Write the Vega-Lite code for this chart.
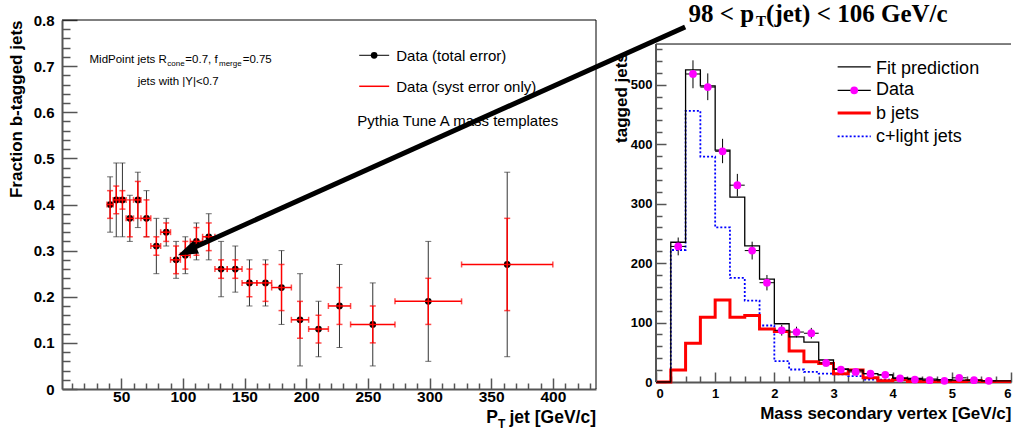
{
  "$schema": "https://vega.github.io/schema/vega-lite/v6.json",
  "padding": {"left": 7, "top": 2, "right": 0, "bottom": 0},
  "background": "white",
  "bounds": "flush",
  "spacing": 60,
  "config": {
    "font": "Liberation Sans",
    "view": {"stroke": null},
    "axis": {"grid": false, "domainColor": "#555", "domainWidth": 2, "tickColor": "#555", "tickWidth": 1.5, "labelColor": "black", "labelFontWeight": "bold", "titleColor": "black", "titleFontWeight": "bold", "labelFont": "Liberation Sans", "titleFont": "Liberation Sans"}
  },
  "datasets": {
    "frac": [
      {"pt":41,"xlo":38.5,"xhi":43.5,"f":0.40,"tlo":0.34,"thi":0.46,"slo":0.37,"shi":0.43},
      {"pt":46,"xlo":43.5,"xhi":48.5,"f":0.41,"tlo":0.33,"thi":0.49,"slo":0.38,"shi":0.44},
      {"pt":51,"xlo":48.5,"xhi":54,"f":0.41,"tlo":0.33,"thi":0.49,"slo":0.39,"shi":0.43},
      {"pt":57,"xlo":54,"xhi":60,"f":0.37,"tlo":0.32,"thi":0.42,"slo":0.33,"shi":0.41},
      {"pt":63.5,"xlo":60,"xhi":66,"f":0.41,"tlo":0.35,"thi":0.47,"slo":0.37,"shi":0.45},
      {"pt":70.5,"xlo":66,"xhi":74,"f":0.37,"tlo":0.33,"thi":0.43,"slo":0.33,"shi":0.41},
      {"pt":78.5,"xlo":74,"xhi":82,"f":0.31,"tlo":0.25,"thi":0.37,"slo":0.29,"shi":0.33},
      {"pt":86.5,"xlo":82,"xhi":90,"f":0.34,"tlo":0.31,"thi":0.37,"slo":0.32,"shi":0.36},
      {"pt":94.5,"xlo":90,"xhi":98,"f":0.28,"tlo":0.24,"thi":0.32,"slo":0.25,"shi":0.31},
      {"pt":102,"xlo":98,"xhi":106,"f":0.29,"tlo":0.25,"thi":0.33,"slo":0.26,"shi":0.32},
      {"pt":111,"xlo":106,"xhi":116,"f":0.32,"tlo":0.28,"thi":0.36,"slo":0.29,"shi":0.35},
      {"pt":121,"xlo":116,"xhi":126,"f":0.33,"tlo":0.28,"thi":0.38,"slo":0.30,"shi":0.36},
      {"pt":131,"xlo":126,"xhi":136,"f":0.26,"tlo":0.20,"thi":0.32,"slo":0.24,"shi":0.28},
      {"pt":142.5,"xlo":136,"xhi":148,"f":0.26,"tlo":0.21,"thi":0.31,"slo":0.24,"shi":0.28},
      {"pt":154,"xlo":148,"xhi":160,"f":0.23,"tlo":0.18,"thi":0.28,"slo":0.20,"shi":0.26},
      {"pt":167,"xlo":160,"xhi":172,"f":0.23,"tlo":0.18,"thi":0.28,"slo":0.19,"shi":0.27},
      {"pt":180,"xlo":172,"xhi":188,"f":0.22,"tlo":0.14,"thi":0.30,"slo":0.17,"shi":0.27},
      {"pt":195,"xlo":188,"xhi":202,"f":0.15,"tlo":0.05,"thi":0.25,"slo":0.11,"shi":0.19},
      {"pt":210,"xlo":202,"xhi":218,"f":0.13,"tlo":0.07,"thi":0.19,"slo":0.10,"shi":0.16},
      {"pt":227,"xlo":218,"xhi":236,"f":0.18,"tlo":0.09,"thi":0.27,"slo":0.14,"shi":0.22},
      {"pt":254,"xlo":236,"xhi":272,"f":0.14,"tlo":0.05,"thi":0.23,"slo":0.10,"shi":0.18},
      {"pt":299,"xlo":272,"xhi":326,"f":0.19,"tlo":0.06,"thi":0.32,"slo":0.14,"shi":0.24},
      {"pt":363,"xlo":326,"xhi":400,"f":0.27,"tlo":0.07,"thi":0.47,"slo":0.17,"shi":0.37}
    ],
    "hist": [
      {"e":0,"fit":0,"b":0,"cl":0},
      {"e":0.25,"fit":235,"b":20,"cl":222},
      {"e":0.5,"fit":525,"b":65,"cl":456},
      {"e":0.75,"fit":498,"b":109,"cl":379},
      {"e":1.0,"fit":390,"b":138,"cl":260},
      {"e":1.25,"fit":311,"b":109,"cl":175},
      {"e":1.5,"fit":229,"b":112,"cl":137},
      {"e":1.75,"fit":173,"b":89,"cl":95},
      {"e":2.0,"fit":98,"b":85,"cl":35},
      {"e":2.25,"fit":76,"b":52,"cl":21},
      {"e":2.5,"fit":67,"b":34,"cl":17},
      {"e":2.75,"fit":37,"b":31,"cl":14},
      {"e":3.0,"fit":22,"b":14,"cl":13},
      {"e":3.25,"fit":20,"b":20,"cl":10},
      {"e":3.5,"fit":14,"b":7,"cl":4},
      {"e":3.75,"fit":12,"b":2,"cl":4},
      {"e":4.0,"fit":7,"b":4,"cl":3},
      {"e":4.25,"fit":6,"b":1,"cl":3},
      {"e":4.5,"fit":5,"b":1,"cl":2},
      {"e":4.75,"fit":4,"b":1,"cl":2},
      {"e":5.0,"fit":3,"b":1,"cl":1},
      {"e":5.25,"fit":3,"b":2,"cl":1},
      {"e":5.5,"fit":2,"b":1,"cl":1},
      {"e":5.75,"fit":2,"b":1,"cl":1},
      {"e":6.0,"fit":2,"b":1,"cl":1}
    ],
    "mdata": [
      {"c":0.375,"xl":0.25,"xh":0.5,"n":228,"lo":213,"hi":243},
      {"c":0.625,"xl":0.5,"xh":0.75,"n":518,"lo":494,"hi":541},
      {"c":0.875,"xl":0.75,"xh":1.0,"n":496,"lo":474,"hi":519},
      {"c":1.125,"xl":1.0,"xh":1.25,"n":388,"lo":368,"hi":409},
      {"c":1.375,"xl":1.25,"xh":1.5,"n":331,"lo":312,"hi":350},
      {"c":1.625,"xl":1.5,"xh":1.75,"n":221,"lo":206,"hi":236},
      {"c":1.875,"xl":1.75,"xh":2.0,"n":167,"lo":154,"hi":180},
      {"c":2.125,"xl":2.0,"xh":2.25,"n":87,"lo":78,"hi":96},
      {"c":2.375,"xl":2.25,"xh":2.5,"n":84,"lo":75,"hi":93},
      {"c":2.625,"xl":2.5,"xh":2.75,"n":82,"lo":73,"hi":91},
      {"c":2.875,"xl":2.75,"xh":3.0,"n":32,"lo":26,"hi":38},
      {"c":3.125,"xl":3.0,"xh":3.25,"n":21,"lo":16,"hi":26},
      {"c":3.375,"xl":3.25,"xh":3.5,"n":17,"lo":13,"hi":21},
      {"c":3.625,"xl":3.5,"xh":3.75,"n":14,"lo":10,"hi":18},
      {"c":3.875,"xl":3.75,"xh":4.0,"n":12,"lo":9,"hi":15},
      {"c":4.125,"xl":4.0,"xh":4.25,"n":6,"lo":4,"hi":8},
      {"c":4.375,"xl":4.25,"xh":4.5,"n":4,"lo":2,"hi":6},
      {"c":4.625,"xl":4.5,"xh":4.75,"n":3,"lo":1,"hi":5},
      {"c":4.875,"xl":4.75,"xh":5.0,"n":2,"lo":0,"hi":4},
      {"c":5.125,"xl":5.0,"xh":5.25,"n":7,"lo":4,"hi":10},
      {"c":5.375,"xl":5.25,"xh":5.5,"n":3,"lo":1,"hi":5},
      {"c":5.625,"xl":5.5,"xh":5.75,"n":2,"lo":0,"hi":4}
    ]
  },
  "hconcat": [
    {
      "width": 534,
      "height": 369,
      "resolve": {"axis": {"x": "independent", "y": "independent"}},
      "layer": [
        {
          "data": {"name": "frac"},
          "mark": {"type": "rule", "color": "#333", "strokeWidth": 1},
          "encoding": {
            "x": {"field": "pt", "type": "quantitative", "scale": {"domain": [2, 435], "nice": false, "zero": false},
                  "axis": {"orient": "bottom", "values": [10,20,30,40,60,70,80,90,110,120,130,140,160,170,180,190,210,220,230,240,260,270,280,290,310,320,330,340,360,370,380,390,410,420,430], "labels": false, "domain": false, "tickSize": -6, "title": null}},
            "y": {"field": "tlo", "type": "quantitative", "scale": {"domain": [0, 0.8], "nice": false},
                  "axis": {"orient": "left", "values": [0.02,0.04,0.06,0.08,0.12,0.14,0.16,0.18,0.22,0.24,0.26,0.28,0.32,0.34,0.36,0.38,0.42,0.44,0.46,0.48,0.52,0.54,0.56,0.58,0.62,0.64,0.66,0.68,0.72,0.74,0.76,0.78], "labels": false, "domain": false, "tickSize": -8, "title": null}},
            "y2": {"field": "thi"}
          }
        },
        {
          "data": {"name": "frac"},
          "transform": [{"fold": ["tlo", "thi"], "as": ["k", "v"]}],
          "mark": {"type": "tick", "orient": "horizontal", "size": 6, "thickness": 1, "color": "#333"},
          "encoding": {
            "x": {"field": "pt", "type": "quantitative", "axis": null},
            "y": {"field": "v", "type": "quantitative", "axis": null}
          }
        },
        {
          "data": {"name": "frac"},
          "mark": {"type": "point", "filled": true, "color": "black", "size": 45, "opacity": 1},
          "encoding": {
            "x": {"field": "pt", "type": "quantitative", "scale": {"domain": [2, 435], "nice": false, "zero": false},
                  "axis": {"orient": "bottom", "values": [50,100,150,200,250,300,350,400], "tickSize": -11, "labelPadding": 11, "labelFontSize": 15.5, "title": null}},
            "y": {"field": "f", "type": "quantitative", "scale": {"domain": [0, 0.8], "nice": false},
                  "axis": {"orient": "left", "values": [0,0.1,0.2,0.3,0.4,0.5,0.6,0.7,0.8], "format": "~g", "tickSize": -15, "labelPadding": 23, "labelFontSize": 15, "title": "Fraction b-tagged jets", "titleAnchor": "end", "titleFontSize": 17, "titlePadding": 8}}
          }
        },
        {
          "data": {"name": "frac"},
          "mark": {"type": "rule", "color": "#ff0000", "strokeWidth": 1.5},
          "encoding": {
            "x": {"field": "xlo", "type": "quantitative", "axis": null},
            "x2": {"field": "xhi"},
            "y": {"field": "f", "type": "quantitative", "axis": null}
          }
        },
        {
          "data": {"name": "frac"},
          "mark": {"type": "rule", "color": "#ff0000", "strokeWidth": 1.5},
          "encoding": {
            "x": {"field": "pt", "type": "quantitative", "axis": null},
            "y": {"field": "slo", "type": "quantitative", "axis": null},
            "y2": {"field": "shi"}
          }
        },
        {
          "data": {"name": "frac"},
          "transform": [{"fold": ["slo", "shi"], "as": ["k", "v"]}],
          "mark": {"type": "tick", "orient": "horizontal", "size": 6, "thickness": 1.5, "color": "#ff0000"},
          "encoding": {
            "x": {"field": "pt", "type": "quantitative", "axis": null},
            "y": {"field": "v", "type": "quantitative", "axis": null}
          }
        },
        {
          "data": {"name": "frac"},
          "transform": [{"fold": ["xlo", "xhi"], "as": ["k", "v"]}],
          "mark": {"type": "tick", "orient": "vertical", "size": 6, "thickness": 1.5, "color": "#ff0000"},
          "encoding": {
            "x": {"field": "v", "type": "quantitative", "axis": null},
            "y": {"field": "f", "type": "quantitative", "axis": null}
          }
        },
        {
          "data": {"values": [{}]},
          "mark": {"type": "rule", "color": "black", "strokeWidth": 1},
          "encoding": {"x": {"datum": 2, "axis": null}, "x2": {"datum": 435}, "y": {"datum": 0.8, "axis": null}}
        },
        {
          "data": {"values": [{}]},
          "mark": {"type": "rule", "color": "black", "strokeWidth": 1},
          "encoding": {"x": {"datum": 435, "axis": null}, "y": {"datum": 0, "axis": null}, "y2": {"datum": 0.8}}
        },
        {
          "data": {"values": [{}]},
          "mark": {"type": "rule", "color": "black", "strokeWidth": 1},
          "encoding": {"x": {"datum": 243, "axis": null}, "x2": {"datum": 267.3}, "y": {"datum": 0.7235, "axis": null}}
        },
        {
          "data": {"values": [{}]},
          "mark": {"type": "point", "filled": true, "color": "black", "size": 45, "opacity": 1},
          "encoding": {"x": {"datum": 255.1, "axis": null}, "y": {"datum": 0.7235, "axis": null}}
        },
        {
          "data": {"values": [{}]},
          "mark": {"type": "rule", "color": "#ff0000", "strokeWidth": 1.5},
          "encoding": {"x": {"datum": 243, "axis": null}, "x2": {"datum": 267.3}, "y": {"datum": 0.6563, "axis": null}}
        },
        {
          "data": {"values": [{}]},
          "mark": {"type": "text", "text": "Data (total error)", "align": "left", "baseline": "alphabetic", "fontSize": 15, "color": "black"},
          "encoding": {"x": {"datum": 273, "axis": null}, "y": {"datum": 0.7105, "axis": null}}
        },
        {
          "data": {"values": [{}]},
          "mark": {"type": "text", "text": "Data (syst error only)", "align": "left", "baseline": "alphabetic", "fontSize": 15, "color": "black"},
          "encoding": {"x": {"datum": 273, "axis": null}, "y": {"datum": 0.6439, "axis": null}}
        },
        {
          "data": {"values": [{}]},
          "mark": {"type": "text", "text": "Pythia Tune A mass templates", "align": "left", "baseline": "alphabetic", "fontSize": 15, "color": "black"},
          "encoding": {"x": {"datum": 241.4, "axis": null}, "y": {"datum": 0.571, "axis": null}}
        },
        {
          "data": {"values": [{}]},
          "mark": {"type": "text", "text": "MidPoint jets R", "align": "left", "baseline": "alphabetic", "fontSize": 11.5, "color": "black"},
          "encoding": {"x": {"datum": 24.3, "axis": null}, "y": {"datum": 0.7074, "axis": null}}
        },
        {
          "data": {"values": [{}]},
          "mark": {"type": "text", "text": "cone", "align": "left", "baseline": "alphabetic", "fontSize": 8, "color": "black"},
          "encoding": {"x": {"datum": 87.4, "axis": null}, "y": {"datum": 0.700, "axis": null}}
        },
        {
          "data": {"values": [{}]},
          "mark": {"type": "text", "text": "=0.7, f", "align": "left", "baseline": "alphabetic", "fontSize": 11.5, "color": "black"},
          "encoding": {"x": {"datum": 102, "axis": null}, "y": {"datum": 0.7074, "axis": null}}
        },
        {
          "data": {"values": [{}]},
          "mark": {"type": "text", "text": "merge", "align": "left", "baseline": "alphabetic", "fontSize": 8, "color": "black"},
          "encoding": {"x": {"datum": 129.3, "axis": null}, "y": {"datum": 0.700, "axis": null}}
        },
        {
          "data": {"values": [{}]},
          "mark": {"type": "text", "text": "=0.75", "align": "left", "baseline": "alphabetic", "fontSize": 11.5, "color": "black"},
          "encoding": {"x": {"datum": 148.5, "axis": null}, "y": {"datum": 0.7074, "axis": null}}
        },
        {
          "data": {"values": [{}]},
          "mark": {"type": "text", "text": "jets with |Y|<0.7", "align": "center", "baseline": "alphabetic", "fontSize": 11.5, "color": "black"},
          "encoding": {"x": {"datum": 96.2, "axis": null}, "y": {"datum": 0.659, "axis": null}}
        },
        {
          "data": {"values": [{}]},
          "mark": {"type": "text", "text": "jet [GeV/c]", "align": "right", "baseline": "alphabetic", "fontSize": 17.5, "fontWeight": "bold", "color": "black"},
          "encoding": {"x": {"datum": 435, "axis": null}, "y": {"datum": -0.0735, "axis": null}}
        },
        {
          "data": {"values": [{}]},
          "mark": {"type": "text", "text": "P", "align": "right", "baseline": "alphabetic", "fontSize": 17.5, "fontWeight": "bold", "color": "black"},
          "encoding": {"x": {"datum": 355.5, "axis": null}, "y": {"datum": -0.0735, "axis": null}}
        },
        {
          "data": {"values": [{}]},
          "mark": {"type": "text", "text": "T", "align": "left", "baseline": "alphabetic", "fontSize": 12, "fontWeight": "bold", "color": "black"},
          "encoding": {"x": {"datum": 355.5, "axis": null}, "y": {"datum": -0.0845, "axis": null}}
        },
        {
          "data": {"values": [{}]},
          "mark": {"type": "rule", "color": "black", "strokeWidth": 5, "strokeCap": "butt"},
          "encoding": {"x": {"datum": 105, "axis": null}, "x2": {"datum": 507.3}, "y": {"datum": 0.302, "axis": null}, "y2": {"datum": 0.785}}
        },
        {
          "data": {"values": [{}]},
          "mark": {"type": "point", "shape": "M0,0L-0.7,2L0.7,2Z", "filled": true, "color": "black", "size": 400, "angle": 246, "opacity": 1, "strokeWidth": 0},
          "encoding": {"x": {"datum": 96.0, "axis": null}, "y": {"datum": 0.290, "axis": null}}
        }
      ]
    },
    {
      "width": 355,
      "height": 362,
      "resolve": {"axis": {"x": "independent", "y": "independent"}},
      "layer": [
        {
          "data": {"name": "hist"},
          "mark": {"type": "line", "interpolate": "step-after", "color": "#0000ff", "strokeWidth": 1.8, "strokeDash": [2, 2]},
          "encoding": {
            "x": {"field": "e", "type": "quantitative", "scale": {"domain": [0, 6], "nice": false}, "axis": null},
            "y": {"field": "cl", "type": "quantitative", "scale": {"domain": [0, 608.8], "nice": false}, "axis": null}
          }
        },
        {
          "data": {"name": "hist"},
          "mark": {"type": "line", "interpolate": "step-after", "color": "#ff0000", "strokeWidth": 3},
          "encoding": {
            "x": {"field": "e", "type": "quantitative", "axis": null},
            "y": {"field": "b", "type": "quantitative", "axis": null}
          }
        },
        {
          "data": {"name": "hist"},
          "mark": {"type": "line", "interpolate": "step-after", "color": "black", "strokeWidth": 1.3},
          "encoding": {
            "x": {"field": "e", "type": "quantitative", "scale": {"domain": [0, 6], "nice": false},
                  "axis": {"orient": "bottom", "values": [0.25,0.5,0.75,1.25,1.5,1.75,2.25,2.5,2.75,3.25,3.5,3.75,4.25,4.5,4.75,5.25,5.5,5.75], "labels": false, "domain": false, "tickSize": -6, "title": null}},
            "y": {"field": "fit", "type": "quantitative", "scale": {"domain": [0, 608.8], "nice": false},
                  "axis": {"orient": "left", "values": [20,40,60,80,120,140,160,180,220,240,260,280,320,340,360,380,420,440,460,480,520,540,560], "labels": false, "domain": false, "tickSize": -6, "title": null}}
          }
        },
        {
          "data": {"name": "mdata"},
          "mark": {"type": "rule", "color": "black", "strokeWidth": 1},
          "encoding": {
            "x": {"field": "c", "type": "quantitative", "axis": null},
            "y": {"field": "lo", "type": "quantitative", "axis": null},
            "y2": {"field": "hi"}
          }
        },
        {
          "data": {"name": "mdata"},
          "mark": {"type": "rule", "color": "black", "strokeWidth": 1},
          "encoding": {
            "x": {"field": "xl", "type": "quantitative", "axis": null},
            "x2": {"field": "xh"},
            "y": {"field": "n", "type": "quantitative", "axis": null}
          }
        },
        {
          "data": {"name": "mdata"},
          "mark": {"type": "point", "filled": true, "color": "#ff00ff", "size": 60, "opacity": 1},
          "encoding": {
            "x": {"field": "c", "type": "quantitative", "scale": {"domain": [0, 6], "nice": false},
                  "axis": {"orient": "bottom", "values": [0,1,2,3,4,5,6], "tickSize": -10, "labelPadding": 15, "labelFontSize": 13, "title": "Mass secondary vertex [GeV/c]", "titleAnchor": "end", "titleFontSize": 17, "titlePadding": 5}},
            "y": {"field": "n", "type": "quantitative", "scale": {"domain": [0, 608.8], "nice": false},
                  "axis": {"orient": "left", "values": [0,100,200,300,400,500], "tickSize": -10, "labelPadding": 14, "labelFontSize": 13, "domain": false, "title": null}}
          }
        },
        {
          "data": {"values": [{}]},
          "mark": {"type": "rule", "color": "black", "strokeWidth": 1},
          "encoding": {"x": {"datum": 0, "axis": null}, "x2": {"datum": 6}, "y": {"datum": 568.4, "axis": null}}
        },
        {
          "data": {"values": [{}]},
          "mark": {"type": "rule", "color": "#555", "strokeWidth": 2},
          "encoding": {"x": {"datum": 0, "axis": null}, "y": {"datum": 0, "axis": null}, "y2": {"datum": 568.4}}
        },
        {
          "data": {"values": [{}]},
          "mark": {"type": "rule", "color": "black", "strokeWidth": 1.3},
          "encoding": {"x": {"datum": 3.07, "axis": null}, "x2": {"datum": 3.63}, "y": {"datum": 529.8, "axis": null}}
        },
        {
          "data": {"values": [{}]},
          "mark": {"type": "rule", "color": "black", "strokeWidth": 1.3},
          "encoding": {"x": {"datum": 3.07, "axis": null}, "x2": {"datum": 3.63}, "y": {"datum": 490.6, "axis": null}}
        },
        {
          "data": {"values": [{}]},
          "mark": {"type": "point", "filled": true, "color": "#ff00ff", "size": 60, "opacity": 1},
          "encoding": {"x": {"datum": 3.35, "axis": null}, "y": {"datum": 490.6, "axis": null}}
        },
        {
          "data": {"values": [{}]},
          "mark": {"type": "rule", "color": "#ff0000", "strokeWidth": 3},
          "encoding": {"x": {"datum": 3.07, "axis": null}, "x2": {"datum": 3.63}, "y": {"datum": 452.4, "axis": null}}
        },
        {
          "data": {"values": [{}]},
          "mark": {"type": "rule", "color": "#0000ff", "strokeWidth": 1.8, "strokeDash": [2, 2]},
          "encoding": {"x": {"datum": 3.07, "axis": null}, "x2": {"datum": 3.63}, "y": {"datum": 413.2, "axis": null}}
        },
        {
          "data": {"values": [{}]},
          "mark": {"type": "text", "text": "Fit prediction", "align": "left", "baseline": "alphabetic", "fontSize": 18, "color": "black"},
          "encoding": {"x": {"datum": 3.72, "axis": null}, "y": {"datum": 518.5, "axis": null}}
        },
        {
          "data": {"values": [{}]},
          "mark": {"type": "text", "text": "Data", "align": "left", "baseline": "alphabetic", "fontSize": 18, "color": "black"},
          "encoding": {"x": {"datum": 3.72, "axis": null}, "y": {"datum": 482.2, "axis": null}}
        },
        {
          "data": {"values": [{}]},
          "mark": {"type": "text", "text": "b jets", "align": "left", "baseline": "alphabetic", "fontSize": 18, "color": "black"},
          "encoding": {"x": {"datum": 3.72, "axis": null}, "y": {"datum": 442.8, "axis": null}}
        },
        {
          "data": {"values": [{}]},
          "mark": {"type": "text", "text": "c+light jets", "align": "left", "baseline": "alphabetic", "fontSize": 18, "color": "black"},
          "encoding": {"x": {"datum": 3.72, "axis": null}, "y": {"datum": 403.6, "axis": null}}
        },
        {
          "data": {"values": [{}]},
          "mark": {"type": "text", "text": "tagged jets", "align": "right", "baseline": "middle", "angle": 270, "fontSize": 17, "fontWeight": "bold", "color": "black"},
          "encoding": {"x": {"datum": -0.58, "axis": null}, "y": {"datum": 553, "axis": null}}
        },
        {
          "data": {"values": [{}]},
          "mark": {"type": "text", "text": "98 < p", "align": "left", "baseline": "alphabetic", "font": "Liberation Serif", "fontSize": 25, "fontWeight": "bold", "color": "black"},
          "encoding": {"x": {"datum": 0.55, "axis": null}, "y": {"datum": 605, "axis": null}}
        },
        {
          "data": {"values": [{}]},
          "mark": {"type": "text", "text": "T", "align": "left", "baseline": "alphabetic", "font": "Liberation Serif", "fontSize": 15, "fontWeight": "bold", "color": "black"},
          "encoding": {"x": {"datum": 1.69, "axis": null}, "y": {"datum": 599, "axis": null}}
        },
        {
          "data": {"values": [{}]},
          "mark": {"type": "text", "text": "(jet) < 106 GeV/c", "align": "left", "baseline": "alphabetic", "font": "Liberation Serif", "fontSize": 25, "fontWeight": "bold", "color": "black"},
          "encoding": {"x": {"datum": 1.86, "axis": null}, "y": {"datum": 605, "axis": null}}
        }
      ]
    }
  ]
}
